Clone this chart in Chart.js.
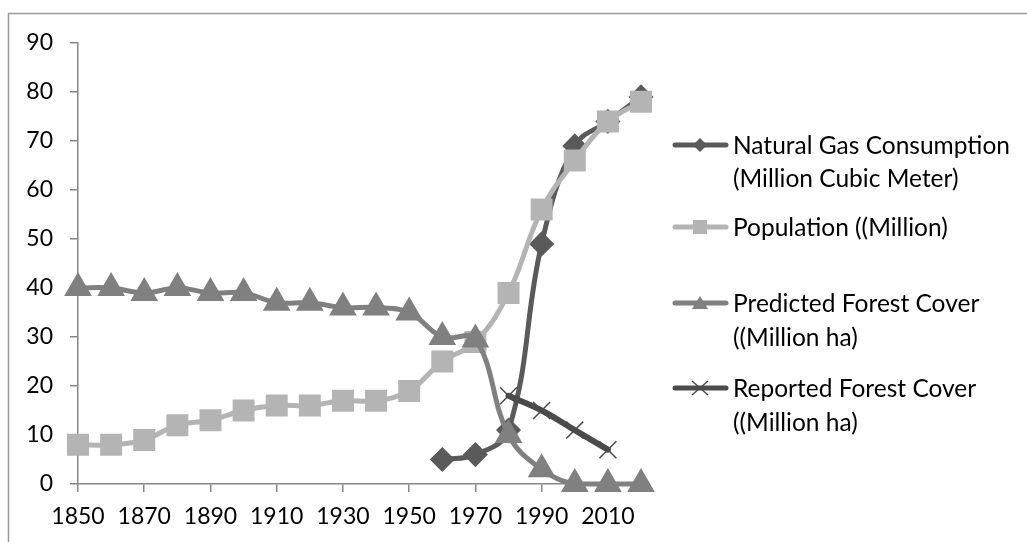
<!DOCTYPE html>
<html lang="en">
<head>
  <meta charset="UTF-8">
  <title>Natural Gas, Population and Forest Cover</title>
  <script src="https://cdn.jsdelivr.net/npm/chart.js"></script>
  <style>
    html, body {
      margin: 0;
      padding: 0;
      background: #ffffff;
    }
    .chart-box {
      position: relative;
      width: 1027px;
      height: 542px;
    }
  </style>
</head>
<body>

  <div class="chart-box">
    <canvas id="forestChart" width="1027" height="542"></canvas>
  </div>

  <script>
    const years = ['1850', '1860', '1870', '1880', '1890', '1900', '1910', '1920', '1930',
                   '1940', '1950', '1960', '1970', '1980', '1990', '2000', '2010', '2020'];

    const gasConsumption = [null, null, null, null, null, null, null, null, null,
                            null, null, 5, 6, 11, 49, 69, 74, 79];
    const population = [8, 8, 9, 12, 13, 15, 16, 16, 17, 17, 19, 25, 29, 39, 56, 66, 74, 78];
    const predictedForest = [40, 40, 39, 40, 39, 39, 37, 37, 36, 36, 35, 30, 29.5, 10, 3, 0, 0, 0];
    const reportedForest = [null, null, null, null, null, null, null, null, null,
                            null, null, null, null, 18, 15, 11, 7, null];

    const seriesNames = [
      ['Natural Gas Consumption', '(Million Cubic Meter)'],
      ['Population ((Million)'],
      ['Predicted Forest Cover', '((Million ha)'],
      ['Reported Forest Cover', '((Million ha)']
    ];

    const FONT = 'Lato, "Open Sans", sans-serif';

    // legend drawn by hand so the labels can wrap like the original
    const legendRows = [
      { y: [145, 178] },
      { y: [227] },
      { y: [303, 337] },
      { y: [388, 422] }
    ];

    const sideLegend = {
      id: 'sideLegend',
      beforeDraw(chart) {
        const ctx = chart.ctx;
        ctx.save();
        ctx.strokeStyle = '#9a9a9a';
        ctx.lineWidth = 1.5;
        ctx.strokeRect(8.5, 13.5, 1040, 560);
        ctx.restore();
      },
      afterDraw(chart) {
        const ctx = chart.ctx;
        ctx.save();
        chart.data.datasets.forEach((ds, i) => {
          const row = legendRows[i];
          const y = row.y[0];
          ctx.strokeStyle = ds.borderColor;
          ctx.lineWidth = 5;
          ctx.lineCap = 'round';
          ctx.beginPath();
          ctx.moveTo(675, y);
          ctx.lineTo(726, y);
          ctx.stroke();

          const cx = 700;
          ctx.fillStyle = ds.pointBackgroundColor;
          ctx.strokeStyle = ds.pointBorderColor;
          ctx.lineCap = 'butt';
          ctx.beginPath();
          if (ds.pointStyle === 'rectRot') {
            ctx.moveTo(cx, y - 7); ctx.lineTo(cx + 7, y); ctx.lineTo(cx, y + 7); ctx.lineTo(cx - 7, y);
            ctx.closePath(); ctx.fill();
          } else if (ds.pointStyle === 'rect') {
            ctx.rect(cx - 7, y - 7, 14, 14); ctx.fill();
          } else if (ds.pointStyle === 'triangle') {
            ctx.moveTo(cx, y - 7); ctx.lineTo(cx + 8, y + 6); ctx.lineTo(cx - 8, y + 6);
            ctx.closePath(); ctx.fill();
          } else {
            ctx.lineWidth = 1.5;
            ctx.moveTo(cx - 8, y - 7); ctx.lineTo(cx + 8, y + 7);
            ctx.moveTo(cx + 8, y - 7); ctx.lineTo(cx - 8, y + 7);
            ctx.stroke();
          }

          ctx.fillStyle = '#000000';
          ctx.font = '24.5px ' + FONT;
          ctx.textBaseline = 'middle';
          ctx.textAlign = 'left';
          seriesNames[i].forEach((line, j) => {
            ctx.fillText(line, 733, row.y[j] + 1);
          });
        });
        ctx.restore();
      }
    };

    const ctx = document.getElementById('forestChart').getContext('2d');
    const chart = new Chart(ctx, {
      type: 'line',
      data: {
        labels: years,
        datasets: [
          {
            label: seriesNames[0].join(' '),
            data: gasConsumption,
            borderColor: '#5a5a5a',
            pointBackgroundColor: '#5a5a5a',
            pointBorderColor: '#5a5a5a',
            pointStyle: 'rectRot',
            pointRadius: 9,
            borderWidth: 5,
            clip: false,
            order: 4
          },
          {
            label: seriesNames[1].join(' '),
            data: population,
            borderColor: '#b4b4b4',
            pointBackgroundColor: '#b4b4b4',
            pointBorderColor: '#b4b4b4',
            pointStyle: 'rect',
            pointRadius: 12,
            borderWidth: 5,
            clip: false,
            order: 3
          },
          {
            label: seriesNames[2].join(' '),
            data: predictedForest,
            borderColor: '#808080',
            pointBackgroundColor: '#808080',
            pointBorderColor: '#808080',
            pointStyle: 'triangle',
            pointRadius: 11,
            borderWidth: 5,
            clip: false,
            order: 2
          },
          {
            label: seriesNames[3].join(' '),
            data: reportedForest,
            borderColor: '#4b4b4b',
            pointBackgroundColor: '#4b4b4b',
            pointBorderColor: '#4b4b4b',
            pointStyle: 'crossRot',
            pointRadius: 12,
            pointBorderWidth: 1.5,
            borderWidth: 6,
            clip: false,
            order: 1
          }
        ]
      },
      options: {
        responsive: false,
        animation: false,
        devicePixelRatio: 1,
        layout: {
          padding: { left: 0, top: 43, right: 386, bottom: 0 }
        },
        elements: {
          line: { tension: 0.4, borderCapStyle: 'round', borderJoinStyle: 'round' }
        },
        scales: {
          x: {
            offset: false,
            grid: {
              display: true,
              drawOnChartArea: false,
              drawTicks: true,
              tickLength: 8,
              color: '#878787',
              lineWidth: 1.5
            },
            border: { color: '#878787', width: 1.5 },
            ticks: {
              autoSkip: false,
              maxRotation: 0,
              padding: 11,
              color: '#000000',
              font: { family: FONT, size: 23 },
              callback: function (value, index) {
                return index % 2 === 0 ? this.getLabelForValue(value) : null;
              }
            },
            afterFit(scale) { scale.height = 58; }
          },
          y: {
            min: 0,
            max: 90,
            grid: {
              display: true,
              drawOnChartArea: false,
              drawTicks: true,
              tickLength: 8,
              color: '#878787',
              lineWidth: 1.5
            },
            border: { color: '#878787', width: 1.5 },
            ticks: {
              stepSize: 10,
              padding: 17,
              color: '#000000',
              font: { family: FONT, size: 23 }
            },
            afterFit(scale) { scale.width = 78; }
          }
        },
        plugins: {
          legend: { display: false },
          tooltip: { enabled: false }
        }
      },
      plugins: [sideLegend]
    });
  </script>

</body>
</html>
